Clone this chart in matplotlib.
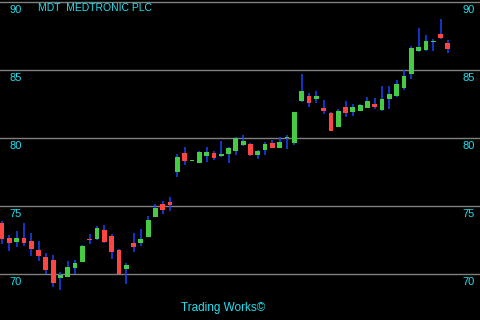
#!/usr/bin/env python3

import numpy as np
import matplotlib
matplotlib.use('Agg')
import matplotlib.pyplot as plt

# daily OHLC
opens = [73.77, 72.65, 72.35, 72.65, 72.43, 71.76, 71.25, 71.03, 69.71, 69.78,
         70.44, 70.88, 72.57, 72.57, 73.24, 72.79, 71.76, 70.37, 72.28, 72.28,
         72.72, 74.19, 75.15, 75.29, 77.50, 78.90, 78.31, 78.16, 78.68, 78.90,
         78.68, 78.82, 79.04, 79.49, 79.56, 78.75, 79.12, 79.63, 79.26, 80.00,
         79.63, 82.72, 83.09, 82.87, 82.21, 81.84, 80.81, 82.28, 81.91, 81.99,
         82.21, 82.50, 82.06, 82.87, 83.09, 83.68, 84.71, 86.40, 86.47, 87.06,
         87.65, 86.99]
highs = [73.90, 72.87, 73.16, 73.77, 73.01, 72.43, 71.54, 71.40, 70.15, 70.96,
         71.03, 72.13, 72.94, 73.53, 73.60, 72.94, 71.84, 70.81, 73.01, 73.31,
         74.26, 75.15, 75.37, 75.66, 78.82, 79.34, 78.38, 79.04, 79.34, 79.04,
         79.78, 79.34, 80.07, 80.22, 79.63, 79.12, 79.71, 79.85, 80.07, 80.22,
         81.91, 84.71, 83.31, 83.46, 82.79, 81.91, 82.13, 82.72, 82.50, 82.50,
         83.01, 82.94, 83.82, 83.82, 84.26, 85.00, 86.77, 88.09, 87.57, 87.28,
         88.75, 87.21]
lows = [72.21, 71.71, 71.99, 72.06, 71.35, 70.96, 70.00, 69.04, 68.82, 69.78,
        70.00, 70.88, 72.21, 72.50, 72.28, 71.10, 70.00, 69.26, 71.62, 72.06,
        72.72, 74.19, 74.41, 74.63, 77.13, 78.01, 78.31, 78.16, 78.24, 78.38,
        78.60, 78.16, 78.75, 79.41, 78.68, 78.46, 78.75, 79.26, 79.26, 79.19,
        79.49, 82.65, 82.28, 82.57, 81.76, 80.51, 80.81, 81.54, 81.62, 81.99,
        82.21, 82.13, 81.99, 82.13, 83.01, 83.53, 84.34, 86.32, 86.40, 86.40,
        87.28, 86.25]
closes = [72.57, 72.28, 72.65, 72.28, 71.84, 71.32, 70.29, 69.34, 69.93, 70.51,
          70.81, 72.06, 72.50, 73.38, 72.35, 71.62, 70.00, 70.66, 71.99, 72.57,
          73.97, 74.85, 74.71, 75.07, 78.60, 78.31, 78.38, 78.97, 78.97, 78.53,
          78.82, 79.26, 80.00, 79.78, 78.75, 79.04, 79.56, 79.26, 79.71, 80.07,
          81.91, 83.46, 82.57, 83.09, 81.99, 80.51, 81.99, 81.84, 82.28, 82.43,
          82.72, 82.28, 82.87, 83.24, 83.97, 84.56, 86.62, 86.69, 87.13, 87.13,
          87.35, 86.54]
levels = [70, 75, 80, 85, 90]
title = 'MDT  MEDTRONIC PLC'
footer = 'Trading Works©'

CYAN = '#1ee0f0'
UP = '#44cc44'
DOWN = '#ff4444'
WICK = '#1a44ff'

o = np.array(opens)
c = np.array(closes)
h = np.array(highs)
l = np.array(lows)
x = np.arange(len(o))
up = c >= o
bottom = np.minimum(o, c)
height = np.maximum(np.abs(c - o), 0.08)

fig = plt.figure(figsize=(4.8, 3.2), dpi=100, facecolor='black')
ax = fig.add_axes([0, 0, 1, 1], facecolor='black')

for lv in levels:
    ax.axhline(lv, color='#808080', lw=1.0, zorder=1)
    ax.annotate(str(lv), (0, lv), xycoords=('axes fraction', 'data'),
                xytext=(9, -3), textcoords='offset pixels', ha='left', va='top',
                color=CYAN, fontsize=8, family='Liberation Sans')
    ax.annotate(str(lv), (1, lv), xycoords=('axes fraction', 'data'),
                xytext=(-5, -3), textcoords='offset pixels', ha='right', va='top',
                color=CYAN, fontsize=8, family='Liberation Sans')

ax.vlines(x, l, h, color=WICK, lw=1.1, zorder=2)
ax.bar(x, height, bottom=bottom, width=0.65,
       color=np.where(up, UP, DOWN), edgecolor='none', zorder=3)

ax.set_xlim(-0.27, 65.4)
ax.set_ylim(66.62, 90.15)
ax.axis('off')

fig.text(38 / 480, 1 - 3 / 320, title, ha='left', va='top', color=CYAN,
         fontsize=7.5, family='Liberation Sans')
fig.text(223 / 480, 1 - 302 / 320, footer, ha='center', va='top', color=CYAN,
         fontsize=8.5, family='Liberation Sans')

fig.savefig('out.png', dpi=100, facecolor='black')
